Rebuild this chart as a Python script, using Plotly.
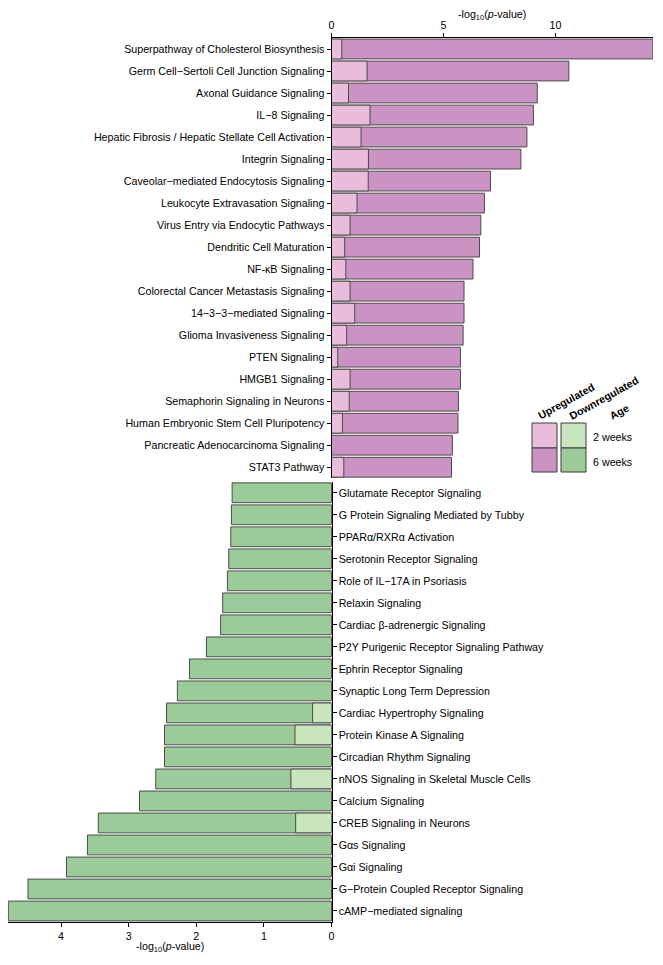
import plotly.graph_objects as go

# ---------------- data ----------------
up_pathways = [
    "Superpathway of Cholesterol Biosynthesis",
    "Germ Cell−Sertoli Cell Junction Signaling",
    "Axonal Guidance Signaling",
    "IL−8 Signaling",
    "Hepatic Fibrosis / Hepatic Stellate Cell Activation",
    "Integrin Signaling",
    "Caveolar−mediated Endocytosis Signaling",
    "Leukocyte Extravasation Signaling",
    "Virus Entry via Endocytic Pathways",
    "Dendritic Cell Maturation",
    "NF-κB Signaling",
    "Colorectal Cancer Metastasis Signaling",
    "14−3−3−mediated Signaling",
    "Glioma Invasiveness Signaling",
    "PTEN Signaling",
    "HMGB1 Signaling",
    "Semaphorin Signaling in Neurons",
    "Human Embryonic Stem Cell Pluripotency",
    "Pancreatic Adenocarcinoma Signaling",
    "STAT3 Pathway",
]
up_6wk = [14.36, 10.6, 9.19, 9.02, 8.73, 8.46, 7.10, 6.83, 6.67, 6.61,
          6.32, 5.92, 5.92, 5.88, 5.76, 5.76, 5.67, 5.65, 5.40, 5.36]
up_2wk = [0.46, 1.59, 0.76, 1.72, 1.32, 1.65, 1.64, 1.14, 0.83, 0.59,
          0.64, 0.83, 1.04, 0.68, 0.28, 0.83, 0.79, 0.49, 0.0, 0.55]

down_pathways = [
    "Glutamate Receptor Signaling",
    "G Protein Signaling Mediated by Tubby",
    "PPARα/RXRα Activation",
    "Serotonin Receptor Signaling",
    "Role of IL−17A in Psoriasis",
    "Relaxin Signaling",
    "Cardiac β-adrenergic Signaling",
    "P2Y Purigenic Receptor Signaling Pathway",
    "Ephrin Receptor Signaling",
    "Synaptic Long Term Depression",
    "Cardiac Hypertrophy Signaling",
    "Protein Kinase A Signaling",
    "Circadian Rhythm Signaling",
    "nNOS Signaling in Skeletal Muscle Cells",
    "Calcium Signaling",
    "CREB Signaling in Neurons",
    "Gαs Signaling",
    "Gαi Signaling",
    "G−Protein Coupled Receptor Signaling",
    "cAMP−mediated signaling",
]
down_6wk = [1.47, 1.48, 1.49, 1.52, 1.54, 1.61, 1.64, 1.85, 2.10, 2.28,
            2.44, 2.47, 2.47, 2.60, 2.84, 3.45, 3.61, 3.92, 4.49, 4.78]
down_2wk = [0, 0, 0, 0, 0, 0, 0, 0, 0, 0,
            0.28, 0.54, 0, 0.60, 0, 0.53, 0, 0, 0, 0]

up_ticks = [0, 5, 10]
down_ticks = [0, 1, 2, 3, 4]
age_labels = ["2 weeks", "6 weeks"]

# ---------------- style ----------------
UP_DARK = "#CB93C3"
UP_LIGHT = "#E9BCDC"
DN_DARK = "#9BCB98"
DN_LIGHT = "#C8E5BD"
EDGE = "#3d3d3d"
FONT = "Liberation Sans, Arial, sans-serif"
FS = 10.7

OFF = 8  # page body margin in the browser
W, H = 663 - OFF, 965 - OFF
ML, MR, MT, MB = 0, 10, 30, 43
PW, PH = W - ML - MR, H - MT - MB


def px(x):
    """screen x (page pixels) -> paper fraction"""
    return (x - OFF - ML) / PW


def py(y):
    """screen y (page pixels) -> paper fraction"""
    return 1 - (y - OFF - MT) / PH


fig = go.Figure()

bar_line = dict(color=EDGE, width=0.9)

fig.add_trace(go.Bar(y=up_pathways, x=up_6wk, orientation="h", marker=dict(color=UP_DARK, line=bar_line),
                     xaxis="x", yaxis="y", showlegend=False, width=0.9))
fig.add_trace(go.Bar(y=up_pathways, x=up_2wk, orientation="h", marker=dict(color=UP_LIGHT, line=bar_line),
                     xaxis="x", yaxis="y", showlegend=False, width=0.9))
fig.add_trace(go.Bar(y=down_pathways, x=down_6wk, orientation="h", marker=dict(color=DN_DARK, line=bar_line),
                     xaxis="x2", yaxis="y2", showlegend=False, width=0.9))
fig.add_trace(go.Bar(y=down_pathways, x=down_2wk, orientation="h", marker=dict(color=DN_LIGHT, line=bar_line),
                     xaxis="x2", yaxis="y2", showlegend=False, width=0.9))

split = px(331.5)
mid = py(480)

axis_common = dict(showline=True, linecolor="black", linewidth=1, ticks="outside", ticklen=4,
                   tickcolor="black", showgrid=False, zeroline=False, automargin=False,
                   tickfont=dict(family=FONT, size=FS, color="black"))

fig.update_layout(
    width=W, height=H,
    margin=dict(l=ML, r=MR, t=MT, b=MB),
    paper_bgcolor="white", plot_bgcolor="white",
    barmode="overlay",
    font=dict(family=FONT, size=FS, color="black"),
    xaxis=dict(domain=[split, 1], anchor="y", side="top", range=[0, 14.36], tickvals=up_ticks,
               **axis_common),
    yaxis=dict(domain=[mid + 0.002, 1], anchor="x", categoryorder="array",
               categoryarray=up_pathways[::-1], range=[-0.5, len(up_pathways) - 0.5],
               **axis_common),
    xaxis2=dict(domain=[0, split], anchor="y2", side="bottom", range=[4.785, 0], tickvals=down_ticks,
                **axis_common),
    yaxis2=dict(domain=[0, mid - 0.002], anchor="x2", side="right", categoryorder="array",
                categoryarray=down_pathways[::-1], range=[-0.5, len(down_pathways) - 0.5],
                **axis_common),
)

title_txt = "-log<sub>10</sub>(<i>p</i>-value)"
fig.add_annotation(text=title_txt, xref="paper", yref="paper", x=px(492), y=py(15),
                   showarrow=False, xanchor="center", yanchor="middle",
                   font=dict(family=FONT, size=FS, color="black"))
fig.add_annotation(text=title_txt, xref="paper", yref="paper", x=px(170), y=py(947),
                   showarrow=False, xanchor="center", yanchor="middle",
                   font=dict(family=FONT, size=FS, color="black"))

# ---------------- legend (drawn) ----------------
sw = [
    (532, 557, 423, 448, UP_LIGHT),
    (532, 557, 448, 472, UP_DARK),
    (561, 586, 423, 448, DN_LIGHT),
    (561, 586, 448, 472, DN_DARK),
]
for x0, x1, y0, y1, c in sw:
    fig.add_shape(type="rect", xref="paper", yref="paper", x0=px(x0), x1=px(x1), y0=py(y1), y1=py(y0),
                  fillcolor=c, line=dict(color=EDGE, width=1))

fig.add_annotation(text=age_labels[0], xref="paper", yref="paper", x=px(591), y=py(437),
                   showarrow=False, xanchor="left", yanchor="middle",
                   font=dict(family=FONT, size=FS, color="black"))
fig.add_annotation(text=age_labels[1], xref="paper", yref="paper", x=px(591), y=py(462),
                   showarrow=False, xanchor="left", yanchor="middle",
                   font=dict(family=FONT, size=FS, color="black"))

for txt, cx, cy in [("Upregulated", 566, 401), ("Downregulated", 603.5, 397.5), ("Age", 618.5, 411.5)]:
    fig.add_annotation(text="<b>" + txt + "</b>", xref="paper", yref="paper", x=px(cx), y=py(cy),
                       showarrow=False, xanchor="center", yanchor="middle", textangle=-29,
                       font=dict(family=FONT, size=FS, color="black"))

fig.write_html("out.html")
